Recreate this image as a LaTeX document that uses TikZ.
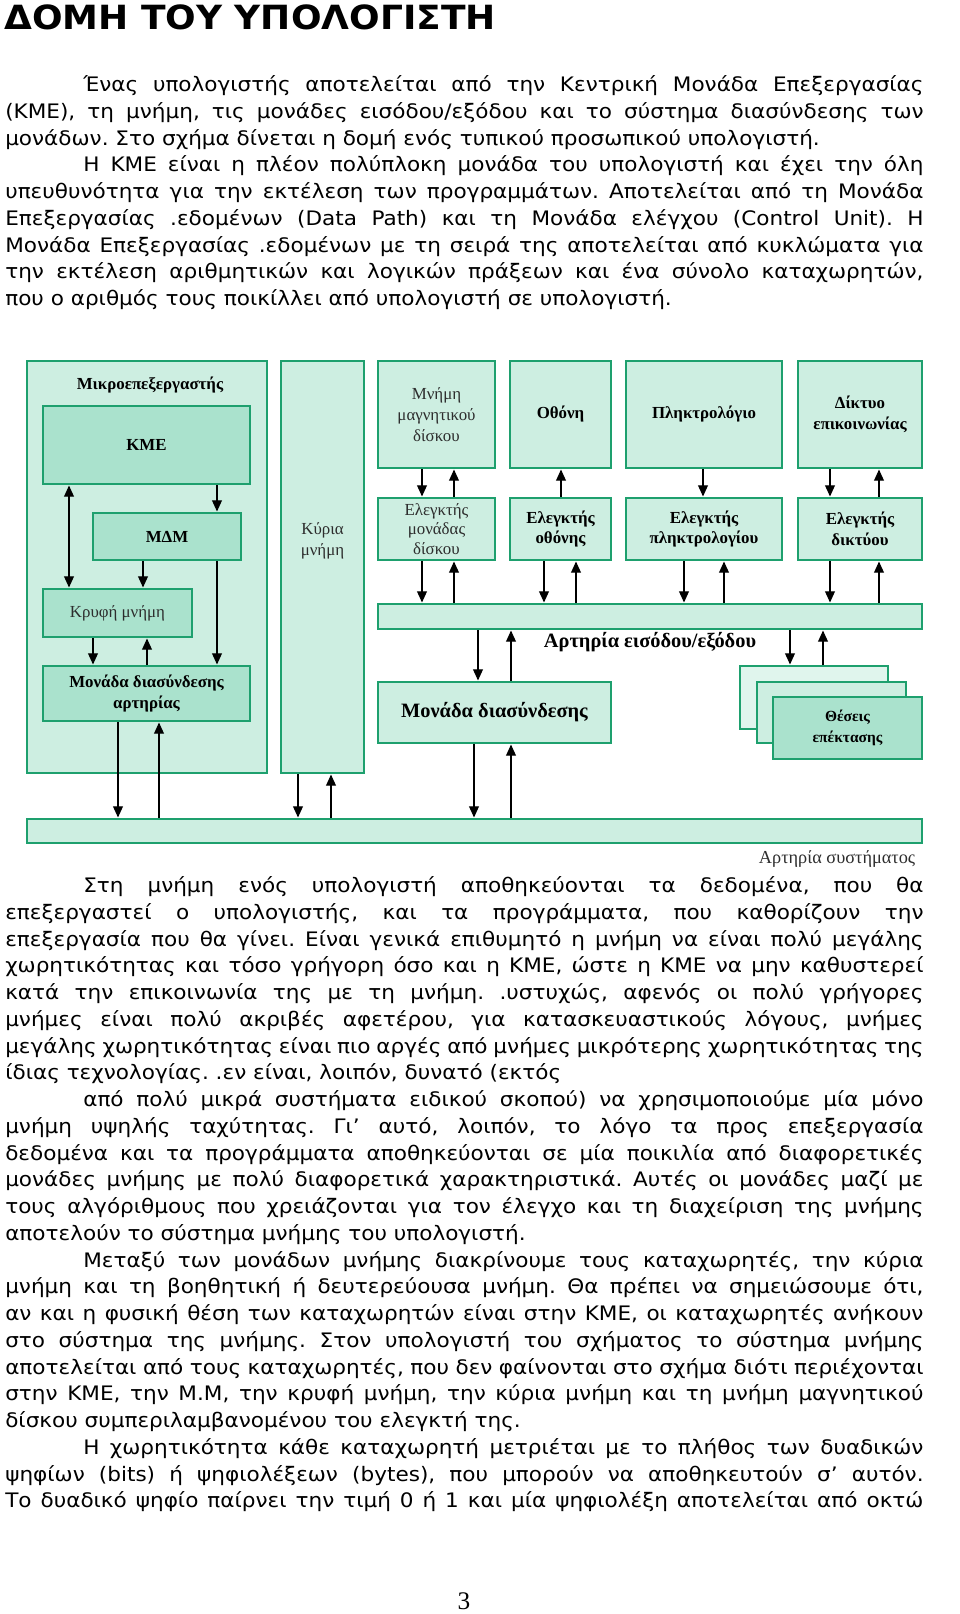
\documentclass[tikz,border=0pt]{standalone}
\usepackage{fontspec}
\setmainfont[FakeStretch=1.08]{DejaVu Sans}
\newfontfamily\figfont{Liberation Serif}
\usetikzlibrary{arrows.meta,positioning}
\definecolor{rim}{RGB}{30,160,110}
\definecolor{mint}{RGB}{205,238,225}
\definecolor{jade}{RGB}{170,226,205}
\definecolor{haze}{RGB}{224,245,237}
\definecolor{ink}{RGB}{45,45,45}
\tolerance=10000
\hyphenpenalty=10000
\frenchspacing
\def\px{0.025cm}
\def\ind{\hspace*{1.95cm}}
\tikzstyle{unit} = [draw=rim,line width=2.1pt,fill=mint,rectangle,inner sep=0,align=center,text=ink,font=\figfont\fontsize{12}{15}\selectfont]
\tikzstyle{core} = [unit,fill=jade]
\tikzstyle{heavy} = [text=black,font=\figfont\bfseries\fontsize{12}{14.5}\selectfont]
\tikzstyle{big} = [text=black,font=\figfont\bfseries\fontsize{14.5}{17}\selectfont]
\tikzstyle{tag} = [inner sep=0,align=center,text=ink,font=\figfont\fontsize{12}{15}\selectfont]
\tikzstyle{flow} = [-{Triangle[width=7pt,length=8pt]},line width=1pt]
\tikzstyle{both} = [{Triangle[width=7pt,length=8pt]}-{Triangle[width=7pt,length=8pt]},line width=1pt]
\tikzstyle{para} = [anchor=base west,inner sep=0,text width=22.95cm,align=justify,font=\fontsize{14.2}{19.03}\selectfont]
\tikzset{wh/.style 2 args={minimum width=#1*\px,minimum height=#2*\px}}

\begin{document}
\begin{tikzpicture}[x=\px,y=-\px]
\useasboundingbox (0,0) rectangle (960,1614);
\node[anchor=base west,inner sep=0,font=\bfseries\fontsize{23.7}{28}\selectfont] (title) at (4,29) {ΔΟΜΗ ΤΟΥ ΥΠΟΛΟΓΙΣΤΗ};
\node[para] (intro) at (5,91.5) {\noindent\ind Ένας υπολογιστής αποτελείται από την Κεντρική Μονάδα Επεξεργασίας\linebreak
(ΚΜΕ), τη μνήμη, τις μονάδες εισόδου/εξόδου και το σύστημα διασύνδεσης των\linebreak
μονάδων. Στο σχήμα δίνεται η δομή ενός τυπικού προσωπικού υπολογιστή.\par
\noindent\ind Η ΚΜΕ είναι η πλέον πολύπλοκη μονάδα του υπολογιστή και έχει την όλη\linebreak
υπευθυνότητα για την εκτέλεση των προγραμμάτων. Αποτελείται από τη Μονάδα\linebreak
Επεξεργασίας .εδομένων (Data Path) και τη Μονάδα ελέγχου (Control Unit). Η\linebreak
Μονάδα Επεξεργασίας .εδομένων με τη σειρά της αποτελείται από κυκλώματα για\linebreak
την εκτέλεση αριθμητικών και λογικών πράξεων και ένα σύνολο καταχωρητών,\linebreak
που ο αριθμός τους ποικίλλει από υπολογιστή σε υπολογιστή.\par};

\node[unit,wh={240}{412}] (cpu) at (147,567) {};
\node[heavy,inner sep=0] (cpulbl) at (150,385) {Μικροεπεξεργαστής};
\node[core,heavy,wh={207}{78}] (kme) at (146.5,445) {ΚΜΕ};
\node[core,heavy,wh={148}{47}] (mdm) at (167,536.5) {ΜΔΜ};
\node[core,wh={149}{48}] (cache) at (117.5,613) {Κρυφή μνήμη};
\node[core,heavy,wh={207}{55}] (busif) at (146.5,693.5) {Μονάδα διασύνδεσης\\αρτηρίας};
\node[unit,wh={83}{412}] (mainmem) at (322.5,567) {};
\node[tag] (memlbl) at (322.5,541) {Κύρια\\μνήμη};

\node[unit,wh={117}{107}] (disk) at (436.5,414.5) {Μνήμη\\μαγνητικού\\δίσκου};
\node[unit,heavy,wh={101}{107}] (screen) at (560.5,414.5) {Οθόνη};
\node[unit,heavy,wh={156}{107}] (kbd) at (704,414.5) {Πληκτρολόγιο};
\node[unit,heavy,wh={124}{107}] (net) at (860,414.5) {Δίκτυο\\επικοινωνίας};
\node[unit,wh={117}{62},font=\figfont\fontsize{12}{14}\selectfont] (diskctl) at (436.5,529) {Ελεγκτής\\μονάδας\\δίσκου};
\node[unit,heavy,wh={101}{62}] (screenctl) at (560.5,529) {Ελεγκτής\\οθόνης};
\node[unit,heavy,wh={156}{62}] (kbdctl) at (704,529) {Ελεγκτής\\πληκτρολογίου};
\node[unit,heavy,wh={124}{62}] (netctl) at (860,529) {Ελεγκτής\\δικτύου};

\node[unit,wh={544}{25}] (iobus) at (650,616.5) {};
\node[big,inner sep=0,below=1pt of iobus] (iolbl) {Αρτηρία εισόδου/εξόδου};
\node[unit,big,wh={233}{61}] (ifu) at (494.5,712.5) {Μονάδα διασύνδεσης};
\node[unit,fill=haze,wh={148}{63}] (slotc) at (814,697.5) {};
\node[unit,wh={149}{61}] (slotb) at (831.5,712.5) {};
\node[core,heavy,wh={149}{62},font=\figfont\bfseries\fontsize{11}{14.5}\selectfont] (slota) at (847.5,728) {Θέσεις\\επέκτασης};
\node[unit,wh={895}{24}] (sysbus) at (474.5,831) {};
\node[tag,font=\figfont\fontsize{13}{15}\selectfont,below left=4pt and 5.7pt of sysbus.south east] (syslbl) {Αρτηρία συστήματος};

\draw[both] (69,0 |- kme.south) -- (69,0 |- cache.north);
\draw[flow] (217,0 |- kme.south) -- (217,0 |- mdm.north);
\draw[flow] (143,0 |- mdm.south) -- (143,0 |- cache.north);
\draw[flow] (217,0 |- mdm.south) -- (217,0 |- busif.north);
\draw[flow] (93,0 |- cache.south) -- (93,0 |- busif.north);
\draw[flow] (147,0 |- busif.north) -- (147,0 |- cache.south);
\draw[flow] (118,0 |- busif.south) -- (118,0 |- sysbus.north);
\draw[flow] (159,0 |- sysbus.north) -- (159,0 |- busif.south);
\draw[flow] (298,0 |- mainmem.south) -- (298,0 |- sysbus.north);
\draw[flow] (331,0 |- sysbus.north) -- (331,0 |- mainmem.south);

\draw[flow] (422,0 |- disk.south) -- (422,0 |- diskctl.north);
\draw[flow] (454,0 |- diskctl.north) -- (454,0 |- disk.south);
\draw[flow] (561,0 |- screenctl.north) -- (561,0 |- screen.south);
\draw[flow] (703,0 |- kbd.south) -- (703,0 |- kbdctl.north);
\draw[flow] (830,0 |- net.south) -- (830,0 |- netctl.north);
\draw[flow] (879,0 |- netctl.north) -- (879,0 |- net.south);

\draw[flow] (422,0 |- diskctl.south) -- (422,0 |- iobus.north);
\draw[flow] (454,0 |- iobus.north) -- (454,0 |- diskctl.south);
\draw[flow] (544,0 |- screenctl.south) -- (544,0 |- iobus.north);
\draw[flow] (576,0 |- iobus.north) -- (576,0 |- screenctl.south);
\draw[flow] (684,0 |- kbdctl.south) -- (684,0 |- iobus.north);
\draw[flow] (724,0 |- iobus.north) -- (724,0 |- kbdctl.south);
\draw[flow] (830,0 |- netctl.south) -- (830,0 |- iobus.north);
\draw[flow] (879,0 |- iobus.north) -- (879,0 |- netctl.south);

\draw[flow] (478,0 |- iobus.south) -- (478,0 |- ifu.north);
\draw[flow] (511,0 |- ifu.north) -- (511,0 |- iobus.south);
\draw[flow] (474,0 |- ifu.south) -- (474,0 |- sysbus.north);
\draw[flow] (511,0 |- sysbus.north) -- (511,0 |- ifu.south);
\draw[flow] (790,0 |- iobus.south) -- (790,0 |- slotc.north);
\draw[flow] (823,0 |- slotc.north) -- (823,0 |- iobus.south);

\node[para] (body) at (5,892.5) {\noindent\ind Στη μνήμη ενός υπολογιστή αποθηκεύονται τα δεδομένα, που θα\linebreak
επεξεργαστεί ο υπολογιστής, και τα προγράμματα, που καθορίζουν την\linebreak
επεξεργασία που θα γίνει. Είναι γενικά επιθυμητό η μνήμη να είναι πολύ μεγάλης\linebreak
χωρητικότητας και τόσο γρήγορη όσο και η ΚΜΕ, ώστε η ΚΜΕ να μην καθυστερεί\linebreak
κατά την επικοινωνία της με τη μνήμη. .υστυχώς, αφενός οι πολύ γρήγορες\linebreak
μνήμες είναι πολύ ακριβές αφετέρου, για κατασκευαστικούς λόγους, μνήμες\linebreak
μεγάλης χωρητικότητας είναι πιο αργές από μνήμες μικρότερης χωρητικότητας της\linebreak
ίδιας τεχνολογίας. .εν είναι, λοιπόν, δυνατό (εκτός\par
\noindent\ind από πολύ μικρά συστήματα ειδικού σκοπού) να χρησιμοποιούμε μία μόνο\linebreak
μνήμη υψηλής ταχύτητας. Γι’ αυτό, λοιπόν, το λόγο τα προς επεξεργασία\linebreak
δεδομένα και τα προγράμματα αποθηκεύονται σε μία ποικιλία από διαφορετικές\linebreak
μονάδες μνήμης με πολύ διαφορετικά χαρακτηριστικά. Αυτές οι μονάδες μαζί με\linebreak
τους αλγόριθμους που χρειάζονται για τον έλεγχο και τη διαχείριση της μνήμης\linebreak
αποτελούν το σύστημα μνήμης του υπολογιστή.\par
\noindent\ind Μεταξύ των μονάδων μνήμης διακρίνουμε τους καταχωρητές, την κύρια\linebreak
μνήμη και τη βοηθητική ή δευτερεύουσα μνήμη. Θα πρέπει να σημειώσουμε ότι,\linebreak
αν και η φυσική θέση των καταχωρητών είναι στην ΚΜΕ, οι καταχωρητές ανήκουν\linebreak
στο σύστημα της μνήμης. Στον υπολογιστή του σχήματος το σύστημα μνήμης\linebreak
αποτελείται από τους καταχωρητές, που δεν φαίνονται στο σχήμα διότι περιέχονται\linebreak
στην ΚΜΕ, την Μ.Μ, την κρυφή μνήμη, την κύρια μνήμη και τη μνήμη μαγνητικού\linebreak
δίσκου συμπεριλαμβανομένου του ελεγκτή της.\par
{\parfillskip=0pt \noindent\ind Η χωρητικότητα κάθε καταχωρητή μετριέται με το πλήθος των δυαδικών\linebreak
ψηφίων (bits) ή ψηφιολέξεων (bytes), που μπορούν να αποθηκευτούν σ’ αυτόν.\linebreak
Το δυαδικό ψηφίο παίρνει την τιμή 0 ή 1 και μία ψηφιολέξη αποτελείται από οκτώ\par}};
\node[font=\figfont\fontsize{18}{20}\selectfont,inner sep=0] (pagenum) at (464,1601) {3};
\end{tikzpicture}
\end{document}
